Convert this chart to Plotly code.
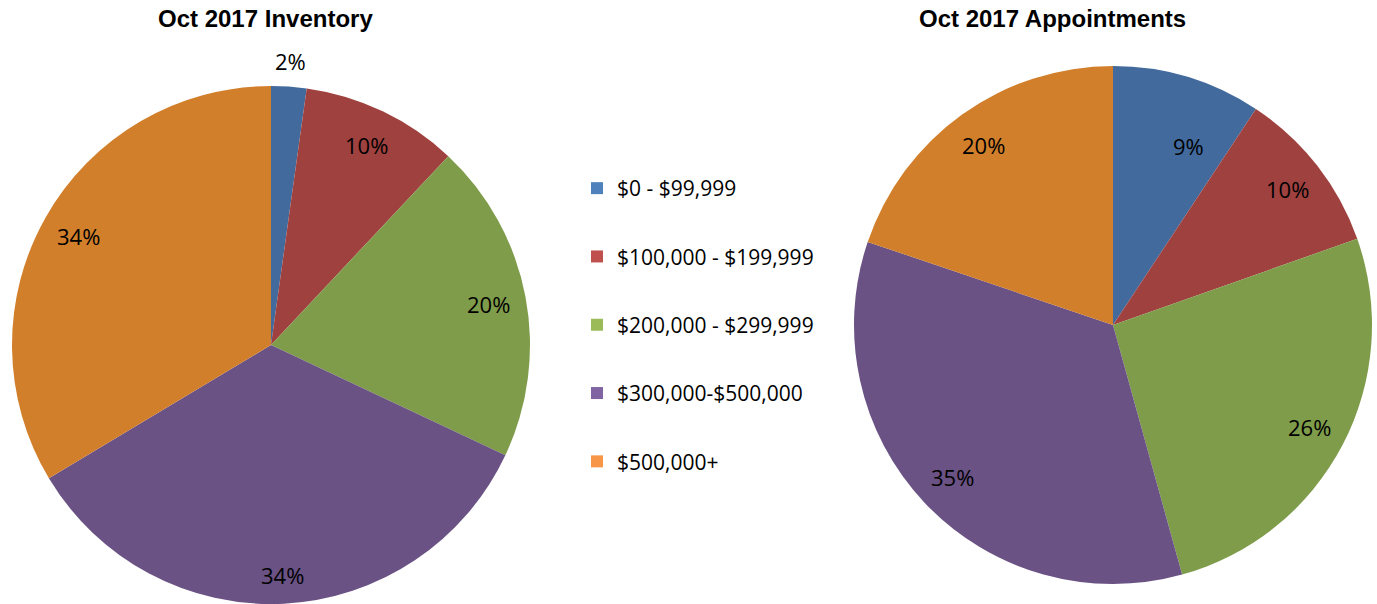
import math
import plotly.graph_objects as go

categories = ["$0 - $99,999", "$100,000 - $199,999", "$200,000 - $299,999",
              "$300,000-$500,000", "$500,000+"]
inventory_pct = [2.2, 9.8, 20.0, 34.4, 33.6]
appointments_pct = [9.3, 10.3, 26.1, 34.5, 19.8]
inventory_text = ["2%", "10%", "20%", "34%", "34%"]
appointments_text = ["9%", "10%", "26%", "35%", "20%"]

slice_colors = ["#426A9D", "#9E413F", "#7F9C4A", "#6A5284", "#D27F2B"]
legend_colors = ["#4F81BD", "#C0504D", "#9BBB59", "#8064A2", "#F79646"]

W, H = 1377, 604
LABEL_FONT = dict(family="Open Sans, Liberation Sans, sans-serif", size=22, color="black")
TITLE_FONT = dict(family="Liberation Sans, Arial, sans-serif", size=24, color="black")

# pie placement (pixels): left, top, width, height
pies = [
    dict(values=inventory_pct, text=inventory_text, box=(11, 86, 520, 518),
         label_r=[1.1, 0.855, 0.855, 0.89, 0.855], label_shift=[0, 0, 0, 0, 0],
         title="Oct 2017 Inventory", title_x=265),
    dict(values=appointments_pct, text=appointments_text, box=(853, 66, 520, 518),
         label_r=[0.75, 0.855, 0.855, 0.855, 0.855], label_shift=[6, 0, 0, 0, 0],
         title="Oct 2017 Appointments", title_x=1052),
]

fig = go.Figure()
annotations = []
for p in pies:
    x0, y0, w, h = p["box"]
    fig.add_trace(go.Pie(
        labels=categories, values=p["values"], text=p["text"],
        textinfo="none", sort=False, direction="clockwise", rotation=0,
        marker=dict(colors=slice_colors, line=dict(width=0)),
        domain=dict(x=[x0 / W, (x0 + w) / W], y=[1 - (y0 + h) / H, 1 - y0 / H]),
        showlegend=False, hoverinfo="label+percent",
    ))
    # data labels placed along each slice's bisector, like the original chart
    r = min(w, h) / 2
    cx, cy = x0 + w / 2, y0 + h / 2
    total = sum(p["values"])
    cum = 0
    for v, t, lr, sh in zip(p["values"], p["text"], p["label_r"], p["label_shift"]):
        ang = math.radians(360 * (cum + v / 2) / total + sh)
        cum += v
        lx = cx + lr * r * math.sin(ang)
        ly = cy - lr * r * math.cos(ang)
        annotations.append(dict(text=t, x=lx / W, y=1 - ly / H, xref="paper", yref="paper",
                                xanchor="center", yanchor="middle", showarrow=False,
                                font=LABEL_FONT))
    annotations.append(dict(text="<b>%s</b>" % p["title"], x=p["title_x"] / W, y=1 - 19 / H,
                            xref="paper", yref="paper", xanchor="center", yanchor="middle",
                            showarrow=False, font=TITLE_FONT))

for cat, col in zip(categories, legend_colors):
    fig.add_trace(go.Scatter(
        x=[None], y=[None], mode="markers", name=cat, legendgroup=cat,
        marker=dict(symbol="square", size=12, color=col),
        showlegend=True, hoverinfo="skip",
    ))

fig.update_layout(
    width=W, height=H,
    margin=dict(l=0, r=0, t=0, b=0),
    paper_bgcolor="white", plot_bgcolor="white",
    xaxis=dict(visible=False), yaxis=dict(visible=False),
    showlegend=True,
    legend=dict(
        x=577 / W, y=1 - 168 / H, xanchor="left", yanchor="top",
        font=dict(family="Open Sans, Liberation Sans, sans-serif", size=21, color="black"),
        tracegroupgap=38, itemwidth=30, bgcolor="rgba(0,0,0,0)",
    ),
    annotations=annotations,
)

fig.write_html("out.html", config={"displayModeBar": False},
               post_script="document.body.style.margin='0';")
